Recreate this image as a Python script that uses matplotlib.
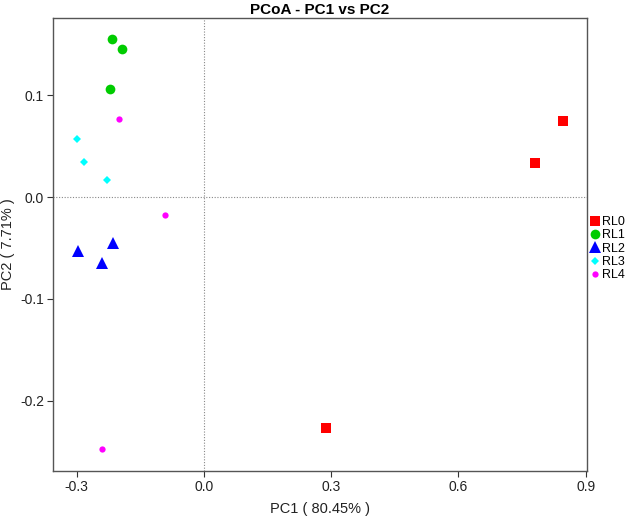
import matplotlib
matplotlib.use("Agg")
import matplotlib.pyplot as plt

plt.rcParams['font.family'] = ['Liberation Sans', 'DejaVu Sans']

# ---- dados (PC1, PC2) por grupo ----
groups = ["RL0", "RL1", "RL2", "RL3", "RL4"]
pc1 = {
    "RL0": [0.847, 0.781, 0.288],
    "RL1": [-0.218, -0.193, -0.221],
    "RL2": [-0.297, -0.215, -0.240],
    "RL3": [-0.300, -0.283, -0.228],
    "RL4": [-0.201, -0.093, -0.241],
}
pc2 = {
    "RL0": [0.0745, 0.033, -0.227],
    "RL1": [0.155, 0.145, 0.106],
    "RL2": [-0.053, -0.045, -0.065],
    "RL3": [0.057, 0.034, 0.017],
    "RL4": [0.077, -0.018, -0.247],
}
xticks = [-0.3, 0.0, 0.3, 0.6, 0.9]
yticks = [-0.2, -0.1, 0.0, 0.1]

styles = {
    "RL0": dict(marker="s", color="#ff0000", ms=6.5),
    "RL1": dict(marker="o", color="#00cc00", ms=7),
    "RL2": dict(marker="^", color="#0000ff", ms=8),
    "RL3": dict(marker="D", color="#00ffff", ms=4.5),
    "RL4": dict(marker="o", color="#ff00ff", ms=4.5),
}

fig = plt.figure(figsize=(6.28, 5.18), dpi=100)
ax = fig.add_axes([0.0845, 0.091, 0.850, 0.874])

ax.axvline(0, color="#888888", lw=0.8, ls=(0, (1, 1.5)), zorder=0)
ax.axhline(0, color="#888888", lw=0.8, ls=(0, (1, 1.5)), zorder=0)

for g in groups:
    st = styles[g]
    ax.plot(pc1[g], pc2[g], ls="none", marker=st["marker"], color=st["color"],
            markersize=st["ms"], markeredgewidth=0, label=g)

ax.set_xlim(-0.356, 0.903)
ax.set_ylim(-0.2686, 0.1755)
ax.set_xticks(xticks)
ax.set_xticklabels([f"{v:.1f}" for v in xticks])
ax.set_yticks(yticks)
ax.set_yticklabels([f"{v:.1f}" for v in yticks])
ax.tick_params(direction="out", length=4, width=0.8, colors="#333333",
               labelsize=10, labelcolor="#222222", pad=2.5)
for s in ax.spines.values():
    s.set_color("#555555")
    s.set_linewidth(1.0)

ax.set_xlabel("PC1 ( 80.45% )", fontsize=10.5, color="#222222", labelpad=6)
ax.set_ylabel("PC2 ( 7.71% )", fontsize=10.5, color="#222222")
ax.yaxis.set_label_coords(-0.072, 0.5)
ax.set_title("PCoA - PC1 vs PC2", fontsize=11, fontweight="bold", pad=3)

fig.legend(loc="center left", bbox_to_anchor=(0.937, 0.52), frameon=False,
           fontsize=9, handletextpad=0.1, labelspacing=0.1,
           handlelength=1.0, borderaxespad=0, borderpad=0)

fig.savefig("out.png", dpi=100)
